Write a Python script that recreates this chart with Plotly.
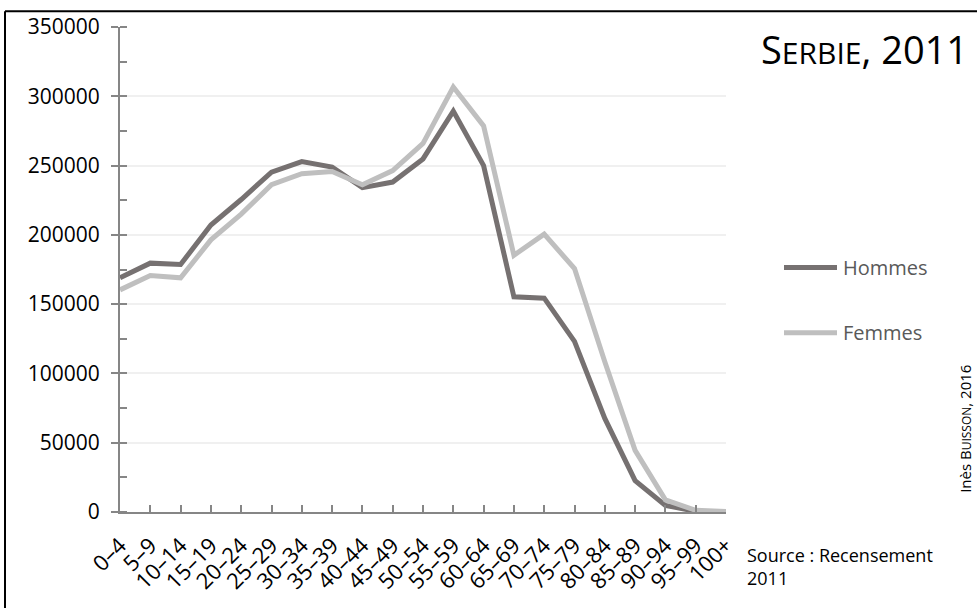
import plotly.graph_objects as go

# Age groups of the 2011 census
age_groups = ["0–4", "5–9", "10–14", "15–19", "20–24", "25–29", "30–34", "35–39",
              "40–44", "45–49", "50–54", "55–59", "60–64", "65–69", "70–74",
              "75–79", "80–84", "85–89", "90–94", "95–99", "100+"]

# Population by age group
hommes = [169000, 179600, 178600, 207100, 225500, 245300, 252900, 248900,
          234100, 238100, 254800, 289300, 250000, 155300, 154300,
          123100, 67500, 22600, 4800, 500, 100]
femmes = [160300, 170700, 169000, 196400, 215000, 236200, 244100, 245700,
          236200, 246400, 266000, 306700, 278600, 185300, 200500,
          175700, 108500, 44500, 8800, 1200, 300]

y_ticks = [0, 50000, 100000, 150000, 200000, 250000, 300000, 350000]

series = [("Hommes", hommes, "#767171"), ("Femmes", femmes, "#BFBFBF")]

FONT = "Open Sans"
W, H = 977, 608
ML, MR, MT, MB = 120, 251, 22, 96
PW, PH = W - ML - MR, H - MT - MB


def px(x):
    return (x - ML) / PW


def py(y):
    return (H - MB - y) / PH


fig = go.Figure()
for name, values, color in series:
    fig.add_trace(go.Scatter(x=age_groups, y=values, name=name, mode="lines",
                             line=dict(color=color, width=5)))

fig.update_layout(
    width=W, height=H,
    margin=dict(l=ML, r=MR, t=MT, b=MB),
    paper_bgcolor="white", plot_bgcolor="white",
    font=dict(family=FONT, color="#262626"),
    showlegend=False,
    xaxis=dict(type="category", range=[0, len(age_groups) - 1],
               showline=True, linecolor="#868686", linewidth=2,
               ticks="inside", ticklen=7, tickcolor="#868686", tickwidth=1.5,
               tickangle=-45, showgrid=False, zeroline=False,
               ticklabelstandoff=10,
               tickfont=dict(size=22, color="#000000", family=FONT)),
    yaxis=dict(range=[0, 350000], tickvals=y_ticks,
               ticktext=[str(v) for v in y_ticks],
               showline=True, linecolor="#868686", linewidth=2,
               ticks="outside", ticklen=7, tickcolor="#868686", tickwidth=1.5,
               showgrid=True, gridcolor="#F0F0F0", gridwidth=1.5,
               zeroline=False, ticklabelstandoff=7,
               tickfont=dict(size=21, color="#000000", family=FONT),
               minor=dict(dtick=25000, ticks="inside", ticklen=7,
                          tickcolor="#868686", tickwidth=1.5, showgrid=False)),
)

# Legend drawn beside the plot
for i, (name, values, color) in enumerate(series):
    yy = 265 + 66 * i
    fig.add_shape(type="line", xref="paper", yref="paper",
                  x0=px(784), x1=px(837), y0=py(yy), y1=py(yy),
                  line=dict(color=color, width=5))
    fig.add_annotation(xref="paper", yref="paper", x=px(841), y=py(yy),
                       text=name, showarrow=False, xanchor="left", yanchor="middle",
                       font=dict(size=20, color="#595959", family=FONT))

# Frame around the figure (left and top edges)
fig.add_shape(type="line", xref="paper", yref="paper",
              x0=px(5), x1=px(5), y0=py(H + 5), y1=py(6),
              line=dict(color="black", width=2))
fig.add_shape(type="line", xref="paper", yref="paper",
              x0=px(5), x1=px(W + 5), y0=py(6), y1=py(6),
              line=dict(color="black", width=2))

# Title with small capitals
fig.add_annotation(xref="paper", yref="paper", x=px(864), y=py(44),
                   text="S<span style='font-size:30px'>ERBIE</span>, 2011",
                   showarrow=False, xanchor="center", yanchor="middle",
                   font=dict(size=38, color="#000000", family=FONT))

# Source note
fig.add_annotation(xref="paper", yref="paper", x=px(745), y=py(567),
                   text="Source : Recensement<br>2011", align="left",
                   showarrow=False, xanchor="left", yanchor="middle",
                   font=dict(size=18, color="#000000", family=FONT))

# Author credit, vertical
fig.add_annotation(xref="paper", yref="paper", x=px(965), y=py(428),
                   text="Inès B<span style='font-size:12px'>UISSON</span>, 2016",
                   textangle=-90, showarrow=False, xanchor="center", yanchor="middle",
                   font=dict(size=15, color="#000000", family=FONT))

fig.write_html("out.html")
